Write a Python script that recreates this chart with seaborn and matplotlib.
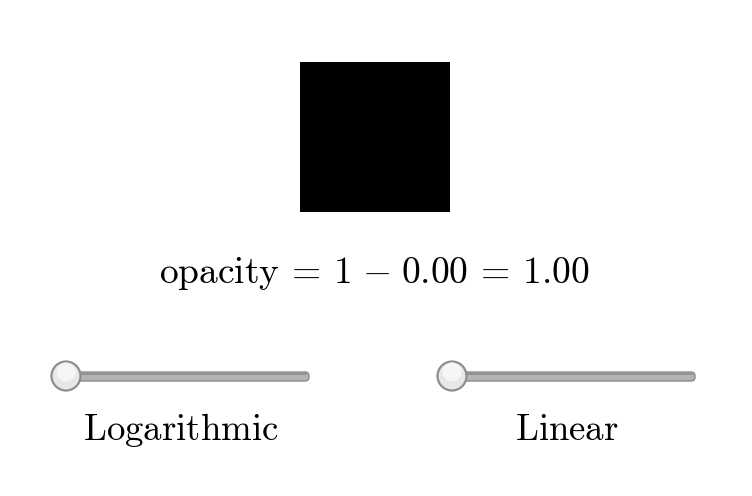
import matplotlib
matplotlib.use("Agg")
import matplotlib.pyplot as plt
import seaborn as sns
import numpy as np
from matplotlib.patches import Rectangle, Circle, FancyBboxPatch

# Data
slider_labels = ["Logarithmic", "Linear"]
slider_values = [0.0, 0.0]  # fraction along the track
subtracted = 0.00
opacity = 1 - subtracted

sns.set_theme(style="white")
plt.rcParams["mathtext.fontset"] = "cm"

fig = plt.figure(figsize=(7.52, 4.96), dpi=100)
ax = fig.add_axes([0, 0, 1, 1])
ax.set_xlim(0, 752)
ax.set_ylim(496, 0)
ax.axis("off")

# Square with given opacity
ax.add_patch(Rectangle((300, 62), 150, 150, facecolor="black", alpha=opacity, edgecolor="none"))

eq = r"\hspace{0.19}{=}\hspace{0.19}"
mi = r"\hspace{0.3}{-}\hspace{0.3}"
ax.text(374, 273, r"$\mathrm{opacity}" + eq + "1" + mi + "%.2f" % subtracted + eq + "%.2f$" % opacity,
        ha="center", va="center", fontsize=27, color="black")

track_x = [55, 441]
track_len = 254
for x0, lab, val in zip(track_x, slider_labels, slider_values):
    # track
    ax.add_patch(FancyBboxPatch((x0, 372), track_len, 9,
                                boxstyle="round,pad=0,rounding_size=4",
                                facecolor="#b4b4b4", edgecolor="#8a8a8a", linewidth=1.0, zorder=1))
    ax.plot([x0 + 3, x0 + track_len - 3], [373.5, 373.5], color="#8c8c8c", lw=1.2, zorder=2)
    # knob
    kx = x0 + 11 + val * (track_len - 22)
    ax.add_patch(Circle((kx, 376), 14.5, facecolor="#e8e8e8", edgecolor="#8e8e8e", linewidth=1.6, zorder=3))
    ax.add_patch(Circle((kx, 372), 9.5, facecolor="#f6f6f6", edgecolor="none", zorder=4))
    ax.text(x0 + track_len / 2 - 1, 430, r"$\mathrm{%s}$" % lab,
            ha="center", va="center", fontsize=26.5, color="black")

fig.savefig("out.png", dpi=100)
